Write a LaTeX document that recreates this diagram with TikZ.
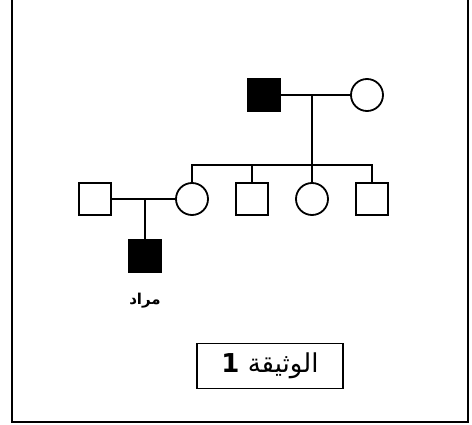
\documentclass[tikz,border=0pt]{standalone}
\usepackage{fontspec}
\newfontfamily\arabicfont[Script=Arabic]{DejaVu Sans}
\TeXXeTstate=1
\usetikzlibrary{calc}

\begin{document}
\begin{tikzpicture}[x=1pt,y=-1pt,line width=1.8pt,node distance=60pt,
  male/.style={draw,rectangle,minimum size=32pt,inner sep=0pt},
  female/.style={draw,circle,minimum size=32pt,inner sep=0pt},
  ill/.style={fill=black}]
  \useasboundingbox (0,0) rectangle (472,425);
  \draw[line width=2.2pt] (12,0) -- (12,422) -- (468,422) -- (468,0);

  \node[male,ill] (1) at (264,95) {};
  \node[female] (2) at (367,95) {};
  \node[female] (3) at (192,199) {};
  \node[male] (4) [right of=3] {};
  \node[female] (5) [right of=4] {};
  \node[male] (6) [right of=5] {};
  \node[male] (7) at (95,199) {};
  \node[male,ill] (8) at (145,256) {};
  \node (9) [below of=8,node distance=45pt] {\arabicfont\bfseries\fontsize{15}{17}\selectfont\beginR مراد\endR};
  \node[draw,line width=1.3pt,minimum width=146pt,minimum height=45pt] (10) at (270,366)
    {\arabicfont\fontsize{26}{30}\selectfont\beginR الوثيقة {\bfseries 1}\endR};

  \coordinate (m1) at (312,95);
  \coordinate (s) at (312,165);
  \coordinate (m2) at ($(7.east)!0.5!(3.west)$);
  \path (1) edge (2)
    (m1) edge (s)
    (4.north) edge (4.north |- s)
    (5.north) edge (5.north |- s)
    (7) edge (3)
    (8.north) edge (8.north |- m2);
  \draw (3.north) |- (s) -| (6.north);
\end{tikzpicture}
\end{document}
